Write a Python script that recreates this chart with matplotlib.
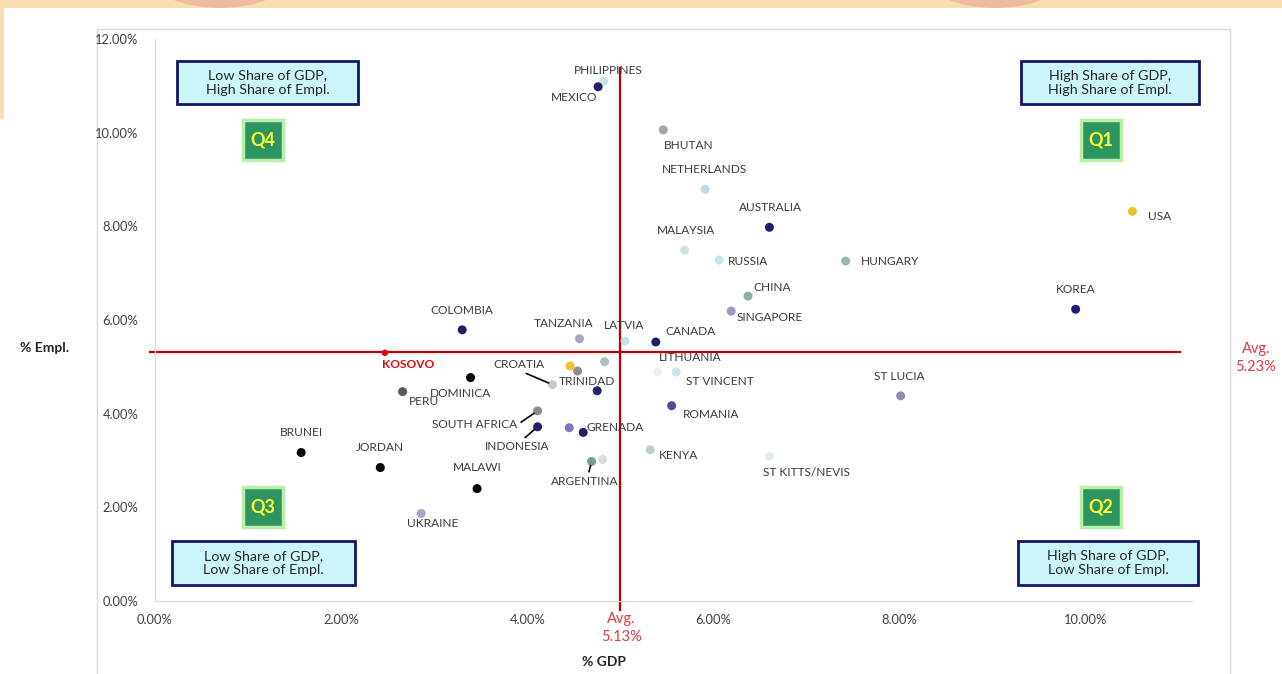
import matplotlib
matplotlib.use("Agg")
from matplotlib import pyplot as plt
from matplotlib.patches import Rectangle, Ellipse
from matplotlib.ticker import PercentFormatter

# data (percent of GDP / employment)
countries = ["PHILIPPINES", "MEXICO", "BHUTAN", "NETHERLANDS", "AUSTRALIA", "USA",
             "MALAYSIA", "RUSSIA", "HUNGARY", "CHINA", "SINGAPORE", "KOREA",
             "COLOMBIA", "TANZANIA", "LATVIA", "CANADA", "KOSOVO", "CROATIA",
             "TRINIDAD", "DOMINICA", "PERU", "LITHUANIA", "ST VINCENT", "ROMANIA",
             "ST LUCIA", "SOUTH AFRICA", "INDONESIA", "GRENADA", "KENYA",
             "ST KITTS/NEVIS", "ARGENTINA", "BRUNEI", "JORDAN", "MALAWI", "UKRAINE",
             "", "", "", "", ""]
gdp_share = [4.82, 4.76, 5.46, 5.91, 6.60, 10.50,
             5.69, 6.06, 7.42, 6.37, 6.19, 9.89,
             3.30, 4.56, 5.05, 5.38, 2.47, 4.27,
             4.54, 3.39, 2.66, 5.40, 5.60, 5.55,
             8.01, 4.11, 4.11, 4.60, 5.32,
             6.60, 4.69, 1.57, 2.42, 3.46, 2.86,
             4.46, 4.83, 4.75, 4.45, 4.81]
empl_share = [11.10, 10.98, 10.06, 8.79, 7.98, 8.32,
              7.49, 7.28, 7.26, 6.51, 6.19, 6.23,
              5.79, 5.60, 5.55, 5.53, 5.30, 4.62,
              4.91, 4.77, 4.47, 4.89, 4.89, 4.17,
              4.38, 4.06, 3.72, 3.60, 3.23,
              3.09, 2.98, 3.17, 2.85, 2.40, 1.87,
              5.02, 5.11, 4.49, 3.70, 3.02]
point_colors = ["#c9e2da", "#1f1f6e", "#a6a6a6", "#bfdde6", "#1f1f6e", "#f2c12e",
                "#d0e4e0", "#c7e3ea", "#95b8b0", "#8fafa5", "#9c98c8", "#1f1f6e",
                "#1f1f6e", "#a9a6cc", "#c5e0e6", "#1f1f6e", "#e8000b", "#c8c8c8",
                "#8f8f8f", "#000000", "#595959", "#eef0f0", "#cce5ea", "#4b4b9b",
                "#8e8cb5", "#8c8c8c", "#1f1f6e", "#1f1f6e", "#bbd3cc",
                "#e0eeec", "#7e9b93", "#000000", "#000000", "#000000", "#a9a7c9",
                "#f2c12e", "#a9c4c0", "#1f1f6e", "#7d78c0", "#dadada"]

avg_gdp_label = "Avg.\n5.13%"
avg_empl_label = "Avg.\n5.23%"
avg_gdp_line = 5.00
avg_empl_line = 5.32

quadrants = ["Q4", "Q1", "Q3", "Q2"]
quadrant_text = ["Low Share of GDP,\nHigh Share of Empl.",
                 "High Share of GDP,\nHigh Share of Empl.",
                 "Low Share of GDP,\nLow Share of Empl.",
                 "High Share of GDP,\nLow Share of Empl."]

# label offsets in pixels (dx, dy up)
label_offset = {
    "PHILIPPINES": (5, 11), "MEXICO": (-24, -11), "BHUTAN": (25, -16),
    "NETHERLANDS": (-1, 20), "AUSTRALIA": (1, 20), "USA": (27, -5),
    "MALAYSIA": (1, 20), "RUSSIA": (29, -1), "HUNGARY": (44, -1),
    "CHINA": (24, 9), "SINGAPORE": (39, -6), "KOREA": (0, 20),
    "COLOMBIA": (0, 19), "TANZANIA": (-16, 15), "LATVIA": (-1, 16),
    "CANADA": (35, 11), "KOSOVO": (23, -12), "CROATIA": (-34, 20),
    "TRINIDAD": (9, -10), "DOMINICA": (-10, -16), "PERU": (21, -10),
    "LITHUANIA": (33, 14), "ST VINCENT": (44, -10), "ROMANIA": (39, -9),
    "ST LUCIA": (-1, 19), "SOUTH AFRICA": (-63, -14), "INDONESIA": (-20, -20),
    "GRENADA": (32, 5), "KENYA": (28, -6), "ST KITTS/NEVIS": (37, -16),
    "ARGENTINA": (-7, -20), "BRUNEI": (0, 20), "JORDAN": (0, 20),
    "MALAWI": (0, 21), "UKRAINE": (11, -10),
}
leaders = {"CROATIA": (0.5, 0.0), "SOUTH AFRICA": (1.0, 0.5),
           "INDONESIA": (0.55, 1.0), "ARGENTINA": (0.55, 1.0)}

W, H = 1282, 674
plt.rcParams['font.family'] = ['Lato', 'DejaVu Sans']

fig = plt.figure(figsize=(W / 100, H / 100), dpi=100)
fig.patch.set_facecolor("white")


def fx(x):
    return x / W


def fy(y):
    return 1 - y / H


# screenshot frame
fig.add_artist(Rectangle((0, fy(8)), 1, 8 / H, transform=fig.transFigure,
                         facecolor="#f9dcb0", edgecolor="none", zorder=0))
fig.add_artist(Rectangle((0, fy(119)), fx(4), 119 / H, transform=fig.transFigure,
                         facecolor="#f9dcb0", edgecolor="none", zorder=0))
for cx in (220, 995):
    fig.add_artist(Ellipse((fx(cx), fy(-22)), 135 / W, 60 / H, transform=fig.transFigure,
                           facecolor="#eebba0", edgecolor="none", zorder=0))
fig.add_artist(Rectangle((fx(97), fy(700)), fx(1230 - 97), 671 / H,
                         transform=fig.transFigure, facecolor="none",
                         edgecolor="#d9d9d9", lw=1, zorder=0))

ax = fig.add_axes([fx(155), 73 / H, fx(1192 - 155), (601 - 39) / H])
ax.set_xlim(0, 11.14)
ax.set_ylim(0, 12)
ax.set_xticks([0, 2, 4, 6, 8, 10])
ax.set_yticks([0, 2, 4, 6, 8, 10, 12])
ax.xaxis.set_major_formatter(PercentFormatter(decimals=2))
ax.yaxis.set_major_formatter(PercentFormatter(decimals=2))
ax.tick_params(length=0, labelsize=9.3, colors="#404040")
ax.tick_params(axis="y", pad=12)
ax.tick_params(axis="x", pad=9)
for s in ["top", "right"]:
    ax.spines[s].set_visible(False)
for s in ["left", "bottom"]:
    ax.spines[s].set_color("#d9d9d9")

# average lines
ax.plot([avg_gdp_line, avg_gdp_line], [-0.19, 11.39], color="#c00000", lw=1.6,
        clip_on=False, zorder=2)
ax.plot([-0.05, 11.01], [avg_empl_line, avg_empl_line], color="#c00000", lw=1.6,
        clip_on=False, zorder=2)

sizes = [22 if c == "KOSOVO" else 42 for c in countries]
ax.scatter(gdp_share, empl_share, s=sizes, c=point_colors, edgecolors="none", zorder=3)

for name, x, y in zip(countries, gdp_share, empl_share):
    if not name:
        continue
    dx, dy = label_offset[name]
    kw = dict(fontsize=8.6, color="#3a3a3a", ha="center", va="center")
    if name == "KOSOVO":
        kw.update(color="#e8000b", fontweight="bold")
    if name in leaders:
        kw["arrowprops"] = dict(arrowstyle="-", color="black", lw=1.2,
                                shrinkA=1, shrinkB=3, relpos=leaders[name])
    ax.annotate(name, (x, y), xytext=(dx, dy), textcoords="offset pixels", **kw)

# quadrant boxes
boxes = [(177, 61, 358, 104), (1021, 61, 1199, 104),
         (172, 541, 355, 585), (1018, 541, 1198, 585)]
squares = [(263, 140), (1101, 140), (263, 507), (1101, 507)]
for q, txt, b, sq in zip(quadrants, quadrant_text, boxes, squares):
    x0, y0, x1, y1 = b
    fig.add_artist(Rectangle((fx(x0), fy(y1)), fx(x1 - x0), (y1 - y0) / H,
                             transform=fig.transFigure, facecolor="#ccf7fa",
                             edgecolor="#15156b", lw=2, zorder=5))
    fig.text(fx((x0 + x1) / 2), fy((y0 + y1) / 2), txt, ha="center", va="center",
             fontsize=10.3, color="#262626", linespacing=1.2, zorder=6)
    cx, cy = sq
    fig.add_artist(Rectangle((fx(cx - 20), fy(cy + 20)), fx(40), 40 / H,
                             transform=fig.transFigure, facecolor="#2e9460",
                             edgecolor="#b8f0a8", lw=2.5, zorder=5))
    fig.text(fx(cx), fy(cy), q, ha="center", va="center", fontsize=13,
             fontweight="bold", color="#ffff33", zorder=6)

# axis titles and average labels
fig.text(fx(44), fy(348), "% Empl.", ha="center", va="center", fontsize=10,
         fontweight="bold", color="#262626")
fig.text(fx(604), fy(662), "% GDP", ha="center", va="center", fontsize=10,
         fontweight="bold", color="#262626")
fig.text(fx(1256), fy(358), avg_empl_label, ha="center", va="center", fontsize=10.5,
         color="#e03a44", linespacing=1.35)
fig.text(fx(621), fy(628), avg_gdp_label, ha="center", va="center", fontsize=10.5,
         color="#e03a44", linespacing=1.35)

fig.savefig("out.png", dpi=100)
